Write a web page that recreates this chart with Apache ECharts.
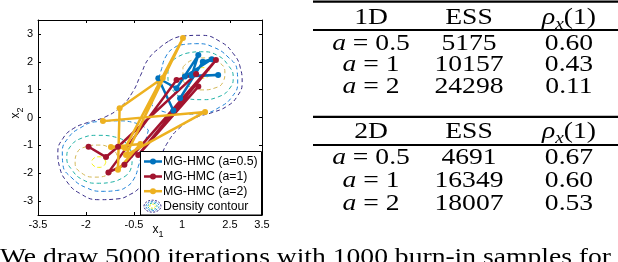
<!DOCTYPE html>
<html><head><meta charset="utf-8">
<script src="https://cdn.jsdelivr.net/npm/echarts@6/dist/echarts.min.js"></script>
<style>html,body{margin:0;padding:0;background:#fff}#c{width:618px;height:262px}</style>
</head><body><div id="c"></div>
<script>
// ---- axis ticks ----
const xTicks = [-3.5, -2, -0.5, 1, 2.5, 3.5];
const yTicks = [-3, -2, -1, 0, 1, 2, 3];

// ---- density contours ----
const contourOuter = [[0.6,2.75],[1.0,2.92],[1.6,2.95],[2.2,2.72],[2.6,2.3],[2.82,1.8],[2.88,1.25],[2.72,0.75],[2.4,0.4],[1.95,0.18],[1.4,-0.02],[0.9,-0.4],[0.55,-0.9],[0.3,-1.5],[0.05,-2.1],[-0.35,-2.55],[-0.6,-2.75],[-1.0,-2.92],[-1.6,-2.95],[-2.2,-2.72],[-2.6,-2.3],[-2.82,-1.8],[-2.88,-1.25],[-2.72,-0.75],[-2.4,-0.4],[-1.95,-0.18],[-1.4,0.02],[-0.9,0.4],[-0.55,0.9],[-0.3,1.5],[-0.05,2.1],[0.35,2.55],[0.6,2.75]];
const contourBlueUp = [[0.05,0.45],[0.2,1.1],[0.35,1.7],[0.5,2.2],[0.75,2.5],[1.05,2.62],[1.47,2.65],[1.97,2.53],[2.44,2.17],[2.72,1.7],[2.74,1.24],[2.56,0.74],[2.19,0.38],[1.66,0.15],[1.03,0.12],[0.45,0.2],[0.05,0.45]];
const contourBlueLow = [[-0.05,-0.45],[-0.2,-1.1],[-0.35,-1.7],[-0.5,-2.2],[-0.75,-2.5],[-1.05,-2.62],[-1.47,-2.65],[-1.97,-2.53],[-2.44,-2.17],[-2.72,-1.7],[-2.74,-1.24],[-2.56,-0.74],[-2.19,-0.38],[-1.66,-0.15],[-1.03,-0.12],[-0.45,-0.2],[-0.05,-0.45]];
const contourTealUp = [[0.72,2.06],[1.16,2.31],[1.63,2.36],[2.09,2.24],[2.44,1.88],[2.6,1.45],[2.5,1.06],[2.13,0.74],[1.63,0.64],[1.03,0.72],[0.69,1.02],[0.56,1.5],[0.6,1.85],[0.72,2.06]];
const contourTealLow = [[-0.72,-2.06],[-1.16,-2.31],[-1.63,-2.36],[-2.09,-2.24],[-2.44,-1.88],[-2.6,-1.45],[-2.5,-1.06],[-2.13,-0.74],[-1.63,-0.64],[-1.03,-0.72],[-0.69,-1.02],[-0.56,-1.5],[-0.6,-1.85],[-0.72,-2.06]];
const contourGoldUp = [[1.03,1.81],[1.31,2.06],[1.72,2.14],[2.13,2.0],[2.34,1.63],[2.28,1.27],[2.03,1.06],[1.63,0.99],[1.25,1.1],[1.03,1.42],[1.03,1.81]];
const contourGoldLow = [[-1.03,-1.81],[-1.31,-2.06],[-1.72,-2.14],[-2.13,-2.0],[-2.34,-1.63],[-2.28,-1.27],[-2.03,-1.06],[-1.63,-0.99],[-1.25,-1.1],[-1.03,-1.42],[-1.03,-1.81]];
const contourYellowUp = [[1.43,1.6],[1.5,1.74],[1.65,1.79],[1.8,1.74],[1.87,1.6],[1.8,1.46],[1.65,1.41],[1.5,1.46],[1.43,1.6]];
const contourYellowLow = [[-1.38,-1.6],[-1.45,-1.46],[-1.6,-1.41],[-1.75,-1.46],[-1.82,-1.6],[-1.75,-1.74],[-1.6,-1.79],[-1.45,-1.74],[-1.38,-1.6]];

// ---- MCMC chains ----
const chainA05 = [[0.73,0.25],[0.26,1.41],[0.83,1.05],[1.51,2.24],[1.3,1.5],[2.13,1.53],[1.09,1.47],[1.93,2.09],[1.65,2.0],[0.94,0.69]];
const chainA1 = [[-1.92,-1.05],[-1.375,-1.42],[-1.0,-1.05],[1.44,1.56],[0.83,1.35],[-1.3,-1.97],[-0.8,-1.7],[2.06,2.06],[-0.37,-1.35],[1.51,1.11]];
const chainA2 = [[-1.47,-0.13],[1.72,0.2],[-0.75,-1.35],[1.03,2.85],[-0.78,-1.1],[-1.22,-1.06],[-0.3,-0.95],[-1.0,-1.88],[-0.95,0.33],[0.4,1.42]];

const seriesNames = ['MG-HMC (a=0.5)', 'MG-HMC (a=1)', 'MG-HMC (a=2)', 'Density contour'];

// ---- table ----
const aValues = ['0.5', '1', '2'];
const ess1D = ['5175', '10157', '24298'];
const rho1D = ['0.60', '0.43', '0.11'];
const ess2D = ['4691', '16349', '18007'];
const rho2D = ['0.67', '0.60', '0.53'];
const bodyText = 'We draw 5000 iterations with 1000 burn-in samples for';

const C_BLUE = '#0072BD', C_RED = '#A2142F', C_YEL = '#EDB120';
const CC = ['#352A87', '#1A80D8', '#1FB2A6', '#D4B857', '#F6F20E'];

const chart = echarts.init(document.getElementById('c'), null, {renderer: 'canvas'});

function contour(data, color) {
  return {type: 'line', data, smooth: 0.5, symbol: 'none', silent: true, z: 1,
    lineStyle: {color, width: 1, type: [4, 3]}, xAxisIndex: 0, yAxisIndex: 0};
}
function chain(name, data, color) {
  return {type: 'line', name, data, symbol: 'circle', symbolSize: 6, z: 3,
    itemStyle: {color}, lineStyle: {color, width: 2.5}, xAxisIndex: 0, yAxisIndex: 0};
}

const SF = "'Liberation Sans', Arial, Helvetica, sans-serif";
const TF = "'Liberation Serif', 'Times New Roman', serif";
const SX = 1.2;
const TS = 23;

const graphics = [];
// legend box
const LX = 140.5, LY = 151.5, LW = 121, LH = 63.5;
graphics.push({type: 'rect', z: 100, shape: {x: LX, y: LY, width: LW, height: LH}, style: {fill: '#fff', stroke: '#000', lineWidth: 1}});
const legendColors = [C_BLUE, C_RED, C_YEL];
const legendY = [161.5, 176.5, 191.2];
for (let i = 0; i < 3; i++) {
  graphics.push({type: 'line', z: 101, shape: {x1: 144, y1: legendY[i], x2: 162, y2: legendY[i]}, style: {stroke: legendColors[i], lineWidth: 2.5}});
  graphics.push({type: 'circle', z: 102, shape: {cx: 153, cy: legendY[i], r: 3}, style: {fill: legendColors[i]}});
  graphics.push({type: 'text', z: 102, x: 163, y: legendY[i], style: {text: seriesNames[i], fontFamily: SF, fontSize: 12.3, fill: '#000', align: 'left', verticalAlign: 'middle'}});
}
// density contour icon
const icY = 206.2;
[[8.5, 6, CC[0]], [6.5, 4.5, CC[1]], [4.5, 3.2, CC[2]], [2.8, 2, CC[4]]].forEach(function (e) {
  graphics.push({type: 'ellipse', z: 101, shape: {cx: 152.5, cy: icY, rx: e[0], ry: e[1]}, style: {fill: null, stroke: e[2], lineWidth: 1, lineDash: [2, 1.5]}});
});
graphics.push({type: 'text', z: 102, x: 163, y: icY, style: {text: seriesNames[3], fontFamily: SF, fontSize: 12.3, fill: '#000', align: 'left', verticalAlign: 'middle'}});

// axis titles
graphics.push({type: 'text', z: 50, x: 158, y: 230, style: {text: '{x|x}{s|1}', fontFamily: SF, fill: '#000', align: 'center', verticalAlign: 'middle',
  rich: {x: {fontFamily: SF, fontSize: 12, lineHeight: 18, verticalAlign: 'middle'}, s: {fontFamily: SF, fontSize: 9, lineHeight: 9, verticalAlign: 'bottom'}}}});
graphics.push({type: 'text', z: 50, x: 16, y: 113, rotation: Math.PI / 2, style: {text: '{x|x}{s|2}', fontFamily: SF, fill: '#000', align: 'center', verticalAlign: 'middle',
  rich: {x: {fontFamily: SF, fontSize: 12, lineHeight: 18, verticalAlign: 'middle'}, s: {fontFamily: SF, fontSize: 9, lineHeight: 9, verticalAlign: 'bottom'}}}});

// table
const colX = [371, 469, 569];
function tcell(x, y, text, rich) {
  const st = {text, fontFamily: TF, fontSize: TS, fill: '#000', align: 'center', verticalAlign: 'middle'};
  if (rich) st.rich = rich;
  return {type: 'text', z: 50, x, y, scaleX: SX, style: st};
}
const mathRich = {
  i: {fontFamily: TF, fontSize: TS, fontStyle: 'italic', lineHeight: 30},
  n: {fontFamily: TF, fontSize: TS, lineHeight: 30},
  s: {fontFamily: TF, fontSize: 16, fontStyle: 'italic', lineHeight: 18, verticalAlign: 'bottom'}
};
function rule(y) {
  graphics.push({type: 'line', z: 50, shape: {x1: 313, y1: y, x2: 620, y2: y}, style: {stroke: '#000', lineWidth: 2.2}});
}
function block(label, hy, rowsY, ess, rho) {
  graphics.push(tcell(colX[0], hy, label));
  graphics.push(tcell(colX[1], hy, 'ESS'));
  graphics.push(tcell(colX[2], hy, '{i|ρ}{s|x}{n|(1)}', mathRich));
  for (let i = 0; i < 3; i++) {
    graphics.push(tcell(colX[0], rowsY[i], '{i|a}{n| = ' + aValues[i] + '}', mathRich));
    graphics.push(tcell(colX[1], rowsY[i], ess[i]));
    graphics.push(tcell(colX[2], rowsY[i], rho[i]));
  }
}
rule(1.6); rule(30); rule(116.8); rule(145);
block('1D', 17.5, [43.5, 65, 87], ess1D, rho1D);
block('2D', 131.5, [158, 181, 203.5], ess2D, rho2D);
graphics.push({type: 'text', z: 50, x: 0, y: 246, scaleX: 1.15, style: {text: bodyText, fontFamily: TF, fontSize: 24, fill: '#000', align: 'left', verticalAlign: 'top'}});

const axisCommon = {
  type: 'value', min: -3.5, max: 3.5, splitLine: {show: false},
  axisLine: {onZero: false, lineStyle: {color: '#000', width: 1}}
};

chart.setOption({
  animation: false,
  backgroundColor: '#fff',
  grid: {left: 38, top: 20, width: 224, height: 195, containLabel: false},
  xAxis: [
    Object.assign({}, axisCommon, {position: 'bottom',
      axisTick: {inside: true, length: 3, customValues: xTicks, lineStyle: {color: '#000'}},
      axisLabel: {customValues: xTicks, fontFamily: SF, fontSize: 11, color: '#000', margin: 4}}),
    Object.assign({}, axisCommon, {position: 'top',
      axisTick: {inside: true, length: 3, customValues: xTicks, lineStyle: {color: '#000'}},
      axisLabel: {show: false}})
  ],
  yAxis: [
    Object.assign({}, axisCommon, {position: 'left',
      axisTick: {inside: true, length: 3, customValues: yTicks, lineStyle: {color: '#000'}},
      axisLabel: {customValues: yTicks, fontFamily: SF, fontSize: 11, color: '#000', margin: 5}}),
    Object.assign({}, axisCommon, {position: 'right',
      axisTick: {inside: true, length: 3, customValues: yTicks, lineStyle: {color: '#000'}},
      axisLabel: {show: false}})
  ],
  series: [
    contour(contourOuter, CC[0]),
    contour(contourBlueUp, CC[1]), contour(contourBlueLow, CC[1]),
    contour(contourTealUp, CC[2]), contour(contourTealLow, CC[2]),
    contour(contourGoldUp, CC[3]), contour(contourGoldLow, CC[3]),
    contour(contourYellowUp, CC[4]), contour(contourYellowLow, CC[4]),
    chain(seriesNames[0], chainA05, C_BLUE),
    chain(seriesNames[1], chainA1, C_RED),
    chain(seriesNames[2], chainA2, C_YEL)
  ],
  graphic: graphics
});
</script></body></html>
